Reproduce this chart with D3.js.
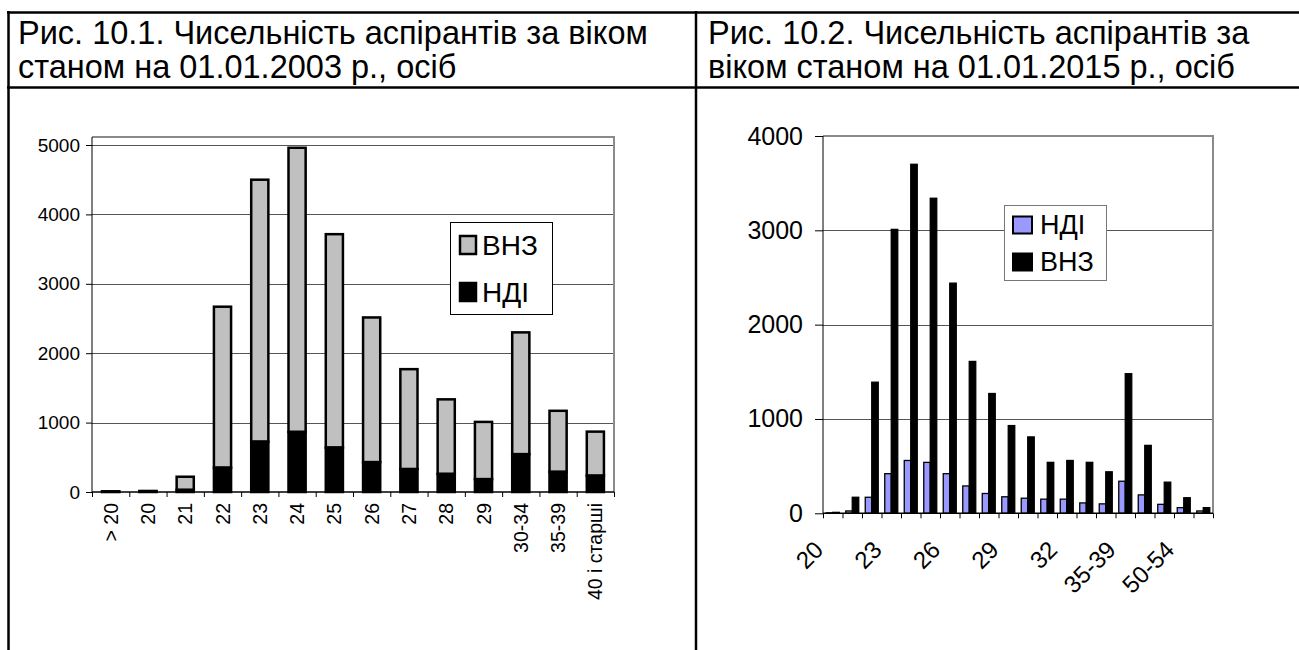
<!DOCTYPE html>
<html>
<head>
<meta charset="utf-8">
<script src="https://cdn.jsdelivr.net/npm/d3@7"></script>
<style>
  body { margin: 0; background: #fff; }
  svg { display: block; font-family: "Liberation Sans", Arial, sans-serif; }
</style>
</head>
<body>
<div id="vis"></div>
<script>
// Рис. 10.1 — 2003, stacked bars
const ages2003 = ["> 20", "20", "21", "22", "23", "24", "25", "26", "27", "28", "29", "30-34", "35-39", "40 і старші"];
const ndi2003 = [3, 5, 30, 350, 725, 865, 640, 430, 330, 260, 185, 545, 290, 235];
const vnz2003 = [7, 10, 190, 2320, 3775, 4095, 3075, 2085, 1440, 1075, 825, 1755, 880, 635];
const yTicks2003 = [0, 1000, 2000, 3000, 4000, 5000];

// Рис. 10.2 — 2015, clustered bars
const ages2015 = ["20", "21", "22", "23", "24", "25", "26", "27", "28", "29", "30", "31", "32", "33", "34", "35-39", "40-44", "45-49", "50-54", "55 і старші"];
const ndi2015 = [5, 25, 170, 420, 560, 540, 420, 290, 210, 175, 160, 150, 150, 110, 100, 340, 195, 95, 60, 25];
const vnz2015 = [10, 170, 1390, 3010, 3700, 3340, 2440, 1610, 1270, 930, 810, 540, 560, 540, 440, 1480, 720, 330, 165, 60];
const yTicks2015 = [0, 1000, 2000, 3000, 4000];

const titles = [
  ["Рис. 10.1. Чисельність аспірантів за віком", "станом на 01.01.2003 р., осіб"],
  ["Рис. 10.2. Чисельність аспірантів за", "віком станом на 01.01.2015 р., осіб"]
];

var W = 1299, H = 650;
var svg = d3.select("#vis").append("svg").attr("width", W).attr("height", H);

// table frame
var frame = svg.append("g").attr("stroke", "#000").attr("stroke-width", 2.5);
frame.append("line").attr("x1", 7).attr("x2", W).attr("y1", 12.5).attr("y2", 12.5);
frame.append("line").attr("x1", 7).attr("x2", W).attr("y1", 87.5).attr("y2", 87.5);
frame.append("line").attr("x1", 8.5).attr("x2", 8.5).attr("y1", 11).attr("y2", H);
frame.append("line").attr("x1", 696).attr("x2", 696).attr("y1", 11).attr("y2", H);

// titles
[18, 708].forEach(function (tx, i) {
  svg.append("g").selectAll("text").data(titles[i]).enter().append("text")
    .attr("x", tx)
    .attr("y", (d, j) => 44 + j * 34)
    .attr("font-size", 32.5)
    .attr("fill", "#000")
    .text(d => d);
});

// ---------- left chart ----------
(function () {
  var x0 = 92, x1 = 614, yTop = 137, y0 = 492;
  var x = d3.scaleBand().domain(ages2003).range([x0, x1]).padding(0);
  var xl = d3.scaleLinear().domain([0, ages2003.length]).range([x0, x1]);
  var y = d3.scaleLinear().domain([0, 5000]).range([y0, 145]);
  var g = svg.append("g");

  // gridlines
  g.append("g").selectAll("line").data(yTicks2003.slice(1)).enter().append("line")
    .attr("x1", x0).attr("x2", x1)
    .attr("y1", d => Math.round(y(d)) + 0.5).attr("y2", d => Math.round(y(d)) + 0.5)
    .attr("stroke", "#555").attr("stroke-width", 1.2);

  // plot border (top & right, gray)
  g.append("path")
    .attr("d", "M" + x0 + "," + yTop + "H" + x1 + "V" + y0)
    .attr("fill", "none").attr("stroke", "#8a8a8a").attr("stroke-width", 2);

  // bars
  var bw = x.bandwidth() * 0.46;
  var bars = g.append("g");
  ages2003.forEach(function (a, i) {
    var bx = x(a) + (x.bandwidth() - bw) / 2;
    var top = ndi2003[i] + vnz2003[i];
    bars.append("rect")
      .attr("x", bx).attr("width", bw)
      .attr("y", y(top)).attr("height", y(ndi2003[i]) - y(top))
      .attr("fill", "#c0c0c0").attr("stroke", "#000").attr("stroke-width", 2.5);
    bars.append("rect")
      .attr("x", bx).attr("width", bw)
      .attr("y", y(ndi2003[i])).attr("height", y0 - y(ndi2003[i]))
      .attr("fill", "#000").attr("stroke", "#000").attr("stroke-width", 2.5);
  });

  // y axis
  var ya = g.append("g").attr("transform", "translate(" + x0 + ",0)")
    .call(d3.axisLeft(y).tickValues(yTicks2003).tickSize(6).tickPadding(6).tickFormat(d3.format("d")));
  ya.select(".domain").attr("d", "M0," + yTop + "V" + y0).attr("stroke", "#000");
  ya.selectAll("text").attr("font-size", 19).attr("fill", "#000").attr("font-family", null);

  // x axis with boundary ticks
  var xa = g.append("g").attr("transform", "translate(0," + y0 + ")")
    .call(d3.axisBottom(xl).tickValues(d3.range(ages2003.length + 1)).tickSize(5).tickFormat(""));
  xa.select(".domain").attr("d", "M" + x0 + ",0H" + x1).attr("stroke", "#000").attr("stroke-width", 1.5);

  g.append("g").selectAll("text").data(ages2003).enter().append("text")
    .attr("transform", d => "translate(" + (x(d) + x.bandwidth() / 2) + "," + (y0 + 11) + ") rotate(-90)")
    .attr("text-anchor", "end")
    .attr("dominant-baseline", "central")
    .attr("font-size", 19.5)
    .text(d => d);

  // legend
  var lg = g.append("g");
  lg.append("rect").attr("x", 450.5).attr("y", 222.5).attr("width", 102).attr("height", 92)
    .attr("fill", "#fff").attr("stroke", "#000").attr("stroke-width", 1);
  var items = [{ name: "ВНЗ", fill: "#c0c0c0", cy: 245 }, { name: "НДІ", fill: "#000", cy: 292 }];
  items.forEach(function (it) {
    lg.append("rect").attr("x", 460).attr("y", it.cy - 9).attr("width", 16).attr("height", 18)
      .attr("fill", it.fill).attr("stroke", "#000").attr("stroke-width", 2.5);
    lg.append("text").attr("x", 482).attr("y", it.cy).attr("dominant-baseline", "central")
      .attr("font-size", 28).text(it.name);
  });
})();

// ---------- right chart ----------
(function () {
  var x0 = 823, x1 = 1213, y0 = 513.3;
  var x = d3.scaleBand().domain(ages2015).range([x0, x1]).padding(0);
  var xl = d3.scaleLinear().domain([0, ages2015.length]).range([x0, x1]);
  var y = d3.scaleLinear().domain([0, 4000]).range([y0, 136]);
  var g = svg.append("g");

  g.append("g").selectAll("line").data(yTicks2015.slice(1, -1)).enter().append("line")
    .attr("x1", x0).attr("x2", x1)
    .attr("y1", d => Math.round(y(d)) + 0.5).attr("y2", d => Math.round(y(d)) + 0.5)
    .attr("stroke", "#555").attr("stroke-width", 1.2);

  g.append("path")
    .attr("d", "M" + x0 + "," + y(4000) + "H" + x1 + "V" + y0)
    .attr("fill", "none").attr("stroke", "#8a8a8a").attr("stroke-width", 2);

  var sub = d3.scaleBand().domain(["НДІ", "ВНЗ"]).range([0, x.bandwidth()]).paddingInner(0).paddingOuter(0.5);
  var bars = g.append("g");
  ages2015.forEach(function (a, i) {
    bars.append("rect")
      .attr("x", x(a) + sub("НДІ")).attr("width", sub.bandwidth())
      .attr("y", y(ndi2015[i])).attr("height", y0 - y(ndi2015[i]))
      .attr("fill", "#9999ff").attr("stroke", "#000").attr("stroke-width", 1.3);
    bars.append("rect")
      .attr("x", x(a) + sub("ВНЗ")).attr("width", sub.bandwidth())
      .attr("y", y(vnz2015[i])).attr("height", y0 - y(vnz2015[i]))
      .attr("fill", "#000").attr("stroke", "#000").attr("stroke-width", 1.3);
  });

  var ya = g.append("g").attr("transform", "translate(" + x0 + ",0)")
    .call(d3.axisLeft(y).tickValues(yTicks2015).tickSize(8).tickPadding(12).tickFormat(d3.format("d")));
  ya.select(".domain").attr("d", "M0," + y(4000) + "V" + y0).attr("stroke", "#000");
  ya.selectAll("text").attr("font-size", 25).attr("fill", "#000").attr("font-family", null);

  var xa = g.append("g").attr("transform", "translate(0," + y0 + ")")
    .call(d3.axisBottom(xl).tickValues(d3.range(ages2015.length + 1)).tickSize(5).tickFormat(""));
  xa.select(".domain").attr("d", "M" + x0 + ",0H" + x1).attr("stroke", "#000").attr("stroke-width", 1.5);

  g.append("g").selectAll("text").data(ages2015.filter((d, i) => i % 3 === 0)).enter().append("text")
    .attr("transform", d => "translate(" + (x(d) + x.bandwidth() / 2 - 14) + "," + (y0 + 32) + ") rotate(-45)")
    .attr("text-anchor", "end")
    .attr("dominant-baseline", "central")
    .attr("font-size", 24)
    .text(d => d);

  var lg = g.append("g");
  lg.append("rect").attr("x", 1004.5).attr("y", 205.5).attr("width", 102).attr("height", 75)
    .attr("fill", "#fff").attr("stroke", "#777").attr("stroke-width", 1);
  var items = [{ name: "НДІ", fill: "#9999ff", cy: 225 }, { name: "ВНЗ", fill: "#000", cy: 262 }];
  items.forEach(function (it) {
    lg.append("rect").attr("x", 1013).attr("y", it.cy - 8.5).attr("width", 19).attr("height", 17)
      .attr("fill", it.fill).attr("stroke", "#000").attr("stroke-width", 2);
    lg.append("text").attr("x", 1040).attr("y", it.cy).attr("dominant-baseline", "central")
      .attr("font-size", 27).text(it.name);
  });
})();
</script>
</body>
</html>
